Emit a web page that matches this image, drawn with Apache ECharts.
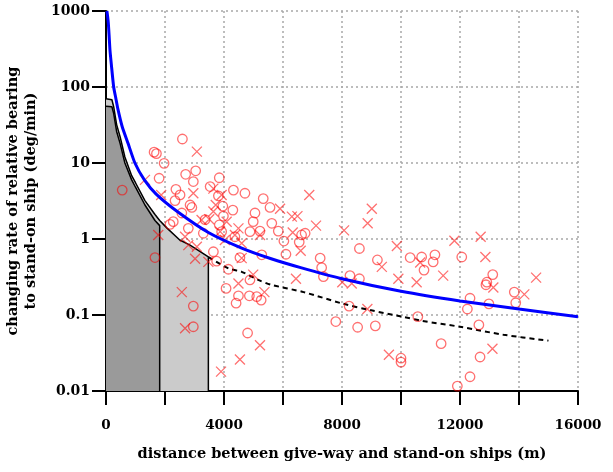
<!DOCTYPE html>
<html>
<head>
<meta charset="utf-8">
<script src="https://cdn.jsdelivr.net/npm/echarts@6/dist/echarts.min.js"></script>
<style>
html, body { margin: 0; padding: 0; background: #fff; }
#main { width: 613px; height: 472px; }
</style>
</head>
<body>
<div id="main"></div>
<script>
// tick labels
var yTickLabels = ['0.01', '0.1', '1', '10', '100', '1000']
var xTickLabels = ['0', '4000', '8000', '12000', '16000']

// blue curve
var blueCurve = [[30,1000],[55,850],[78,700],[105,480],[136,300],[180,200],[260,100],[330,72],[400,52],
  [550,30],[750,18],[980,10],[1300,6.0],[1700,3.9],[2450,2.25],[3470,1.22],[4600,0.76],[5600,0.55],
  [6600,0.42],[8000,0.30],[10000,0.205],[12000,0.153],[14000,0.12],[16000,0.095]]

// black bounds (light gray region / dark gray region)
var upperBound = [[0,70],[200,68],[260,55],[360,32],[480,22],[640,12],[870,6.8],[1000,5.5],[1320,3.2],
  [1660,2.1],[1820,1.75],[2060,1.4],[2500,0.97],[2850,0.83],[3470,0.58],[3470,0.01]]
var lowerBound = [[0,56],[200,55],[260,45],[360,26],[480,18],[640,10],[870,6.0],[1000,4.8],[1320,2.8],
  [1660,1.75],[1820,1.5],[1820,0.01]]

// dashed continuation
var dashedCurve = [[3470,0.58],[4150,0.41],[4600,0.37],[5160,0.29],[5600,0.25],[6700,0.20],[8000,0.142],
  [8950,0.116],[10050,0.095],[10700,0.084],[12000,0.070],[13470,0.055],[15000,0.046]]

// observed points
var circlePoints = [[2590,20.7],[1630,13.9],[1710,13.3],[1970,9.9],[3040,7.9],[2700,7.1],[1800,6.3],[2960,5.7],
  [3840,6.4],[3530,4.9],[4320,4.4],[2370,4.5],[2510,3.8],[2340,3.2],[4710,4.0],[3810,3.7],[5330,3.4],[2850,2.8],
  [2910,2.6],[3960,2.7],[4300,2.4],[2570,2.2],[5050,2.2],[5560,2.6],[3980,2.0],[3360,1.8],[2280,1.69],[2170,1.56],
  [3840,1.53],[3920,1.25],[4990,1.69],[5620,1.61],[5220,1.27],[4880,1.25],[2790,1.38],[3300,1.19],[4370,1.07],
  [3640,0.68],[1660,0.57],[4540,0.57],[5280,0.62],[5840,1.27],[6030,0.94],[6630,1.13],[6750,1.19],[6550,0.91],
  [6100,0.63],[7260,0.56],[8590,0.75],[9200,0.53],[10310,0.57],[10700,0.58],[11150,0.62],[12060,0.58],
  [2960,0.131],[2960,0.070],[3750,0.51],[4150,0.40],[4070,0.224],[4490,0.179],[4410,0.143],[4860,0.179],
  [4880,0.289],[5110,0.174],[5260,0.157],[4800,0.058],[7310,0.42],[7370,0.32],[8270,0.33],[8590,0.30],
  [8240,0.131],[7790,0.082],[8530,0.069],[9130,0.072],[10570,0.095],[10000,0.027],[10000,0.024],[10780,0.39],
  [11090,0.50],[13110,0.34],[12910,0.27],[12880,0.25],[13840,0.20],[13890,0.145],[12340,0.166],[12250,0.120],
  [12980,0.140],[12640,0.074],[11360,0.042],[12680,0.028],[12340,0.0154],[11910,0.0116],[550,4.4]]
var crossPoints = [[3080,14.1],[1320,6.0],[1870,3.8],[2960,4.0],[3640,4.6],[3920,3.8],[3720,2.8],[3500,1.82],
  [3240,1.78],[4090,1.69],[4490,1.38],[4370,1.13],[3870,1.25],[2680,1.07],[1770,1.13],[4030,0.97],[4600,0.88],
  [5220,1.13],[2790,0.83],[3080,0.79],[3640,2.3],[6890,3.8],[5900,2.5],[6300,1.97],[6490,2.0],[6330,1.22],
  [7120,1.50],[6600,0.70],[8070,1.30],[9010,2.5],[8870,1.61],[9860,0.81],[11810,0.95],[12700,1.07],[12860,0.58],
  [2570,0.20],[2680,0.067],[4490,0.26],[4990,0.34],[5370,0.20],[5220,0.040],[4540,0.026],[3900,0.018],
  [4600,0.56],[3020,0.55],[3470,0.50],[6440,0.30],[8010,0.27],[8330,0.26],[9350,0.43],[9910,0.30],[10530,0.27],
  [10650,0.49],[8860,0.12],[9590,0.030],[11430,0.33],[13130,0.23],[14580,0.31],[14180,0.187],[13100,0.036]]

var labelFont = 'DejaVu Serif'
var gridLine = { type: [2, 3], color: '#a8a8a8', width: 1.5 }
var red = 'rgba(255,0,0,0.7)'

var mychart = echarts.init(document.getElementById('main'))
mychart.setOption({
  animation: false,
  backgroundColor: '#fff',
  grid: { left: 106, right: 35, top: 11, bottom: 81, containLabel: false, outerBoundsMode: 'none' },
  xAxis: {
    type: 'value', min: 0, max: 16000, interval: 2000,
    name: 'distance between give-way and stand-on ships (m)',
    nameLocation: 'middle', nameGap: 56,
    nameTextStyle: { fontFamily: labelFont, fontWeight: 'bold', fontSize: 14.5, color: '#000' },
    axisLine: { show: true, lineStyle: { color: '#000', width: 2 } },
    axisTick: { show: true, length: 14, lineStyle: { color: '#000', width: 2 } },
    axisLabel: {
      margin: 27, color: '#000', fontFamily: labelFont, fontWeight: 'bold', fontSize: 13.5,
      showMinLabel: true, showMaxLabel: true,
      formatter: function(v) { return v % 4000 === 0 ? xTickLabels[v / 4000] : '' }
    },
    splitLine: { show: true, lineStyle: gridLine }
  },
  yAxis: {
    type: 'log', logBase: 10, min: 0.01, max: 1000,
    name: 'changing rate of relative bearing\nto stand-on ship (deg/min)',
    nameLocation: 'middle', nameGap: 60, nameRotate: 90,
    nameTextStyle: { fontFamily: labelFont, fontWeight: 'bold', fontSize: 14.5, lineHeight: 18, color: '#000' },
    axisLine: { show: true, lineStyle: { color: '#000', width: 2 } },
    axisTick: { show: true, length: 14, lineStyle: { color: '#000', width: 2 } },
    axisLabel: {
      margin: 16, color: '#000', fontFamily: labelFont, fontWeight: 'bold', fontSize: 14,
      showMinLabel: true, showMaxLabel: true,
      formatter: function(v) { return yTickLabels[Math.round(Math.log10(v)) + 2] }
    },
    splitLine: { show: true, lineStyle: gridLine },
    minorTick: { show: false }
  },
  series: [
    {
      type: 'line', data: upperBound, symbol: 'none', z: 2,
      lineStyle: { color: '#000', width: 1.5 },
      areaStyle: { color: '#cbcbcb', opacity: 1, origin: 'start' }
    },
    {
      type: 'line', data: lowerBound, symbol: 'none', z: 3,
      lineStyle: { color: '#000', width: 1.5 },
      areaStyle: { color: '#9a9a9a', opacity: 1, origin: 'start' }
    },
    {
      type: 'line', data: dashedCurve, symbol: 'none', z: 3, smooth: 0.3,
      lineStyle: { color: '#000', width: 2, type: [5, 4] }
    },
    {
      type: 'scatter', data: circlePoints, symbol: 'circle', symbolSize: 9.5, z: 4,
      itemStyle: { color: 'rgba(0,0,0,0)', borderColor: red, borderWidth: 1.3 }
    },
    {
      type: 'scatter', data: crossPoints, symbol: 'path://M0,0L10,10M10,0L0,10', symbolSize: 10, z: 4,
      itemStyle: { color: 'rgba(0,0,0,0)', borderColor: red, borderWidth: 1.3 }
    },
    {
      type: 'line', data: blueCurve, symbol: 'none', z: 5, smooth: 0.2,
      lineStyle: { color: '#0000ff', width: 3 }
    }
  ]
})
</script>
</body>
</html>
